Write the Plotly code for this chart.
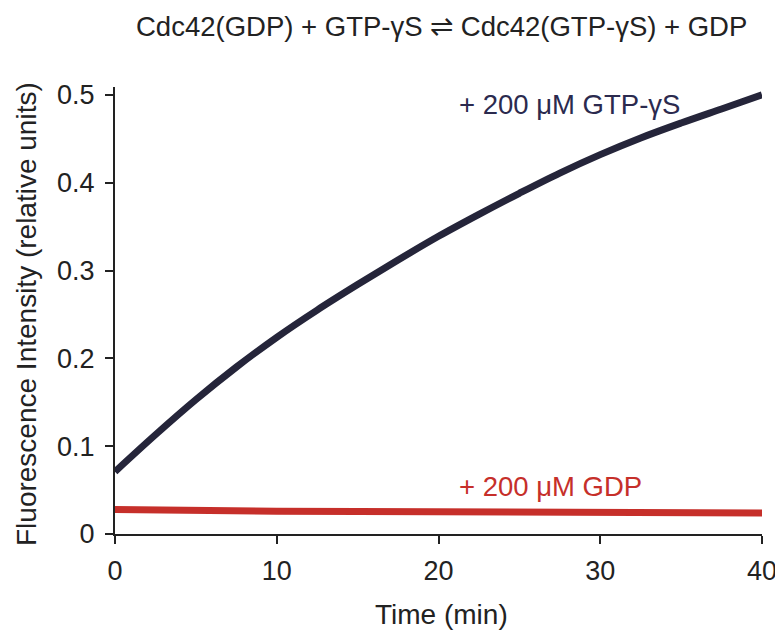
import plotly.graph_objects as go

# Data
time_gtp = [0, 2.5, 5, 7.5, 10, 12.5, 15, 17.5, 20, 22.5, 25, 27.5, 30, 32.5, 35, 37.5, 40]
fluor_gtp = [0.071, 0.113, 0.153, 0.190, 0.224, 0.255, 0.284, 0.312, 0.339, 0.364, 0.388, 0.411,
             0.432, 0.451, 0.468, 0.484, 0.500]

time_gdp = [0, 5, 10, 15, 20, 25, 30, 35, 40]
fluor_gdp = [0.028, 0.0265, 0.026, 0.0255, 0.025, 0.025, 0.0245, 0.0243, 0.024]

x_ticks = [0, 10, 20, 30, 40]
y_ticks = [0, 0.1, 0.2, 0.3, 0.4, 0.5]
y_tick_labels = ["0", "0.1", "0.2", "0.3", "0.4", "0.5"]

x_title = "Time (min)"
y_title = "Fluorescence Intensity (relative units)"
label_gtp = "+ 200 \u03bcM GTP-\u03b3S"
label_gdp = "+ 200 \u03bcM GDP"
title_text = "Cdc42(GDP) + GTP-\u03b3S \u21cc Cdc42(GTP-\u03b3S) + GDP"

navy = "#25253a"
navy_text = "#2b2a4e"
red = "#c62f2a"
axis_col = "#222222"
FONT = "Liberation Sans, Arial, sans-serif"

# page has an 8px body margin; figure coordinates = page coordinates - 8
OFF = 8
W, H = 775, 622
L, R, T, B = 115 - OFF, W - (762 - OFF), 87 - OFF, H - (534 - OFF)
pw, ph = W - L - R, H - T - B


def px(xp):
    return (xp - OFF - L) / pw


def py(yp):
    return 1 - (yp - OFF - T) / ph


fig = go.Figure()
fig.add_trace(go.Scatter(x=time_gdp, y=fluor_gdp, mode="lines",
                         line=dict(color=red, width=7), showlegend=False))
fig.add_trace(go.Scatter(x=time_gtp, y=fluor_gtp, mode="lines", line_shape="spline",
                         line=dict(color=navy, width=7), showlegend=False))

fig.update_layout(
    width=W, height=H,
    margin=dict(l=L, r=R, t=T, b=B, autoexpand=False),
    paper_bgcolor="white", plot_bgcolor="white",
    font=dict(family=FONT, size=27, color="#222222"),
    annotations=[
        dict(text=title_text, x=px(441), y=py(27), xref="paper", yref="paper",
             xanchor="center", yanchor="middle", showarrow=False,
             font=dict(size=27.5, color="#222222")),
        dict(text=x_title, x=px(441), y=py(614), xref="paper", yref="paper",
             xanchor="center", yanchor="middle", showarrow=False,
             font=dict(size=28, color="#222222")),
        dict(text=y_title, x=px(26), y=py(314), xref="paper", yref="paper", textangle=-90,
             xanchor="center", yanchor="middle", showarrow=False,
             font=dict(size=28, color="#222222")),
        dict(text=label_gtp, x=px(457), y=py(105), xref="paper", yref="paper", xanchor="left",
             yanchor="middle", showarrow=False, font=dict(size=27.5, color=navy_text)),
        dict(text=label_gdp, x=px(457), y=py(486), xref="paper", yref="paper", xanchor="left",
             yanchor="middle", showarrow=False, font=dict(size=27.5, color=red)),
    ],
    xaxis=dict(range=[0, 40], tickvals=x_ticks, ticks="outside", ticklen=8, tickwidth=2,
               tickcolor=axis_col, showline=True, linecolor=axis_col, linewidth=2,
               showgrid=False, zeroline=False, automargin=False, ticklabelstandoff=4,
               tickfont=dict(size=27)),
    yaxis=dict(range=[0, 0.509], tickvals=y_ticks, ticktext=y_tick_labels, ticks="outside",
               ticklen=8, tickwidth=2, tickcolor=axis_col, showline=True, linecolor=axis_col,
               linewidth=2, showgrid=False, zeroline=False, automargin=False,
               ticklabelstandoff=5, tickfont=dict(size=27)),
)

fig.write_html("out.html")
